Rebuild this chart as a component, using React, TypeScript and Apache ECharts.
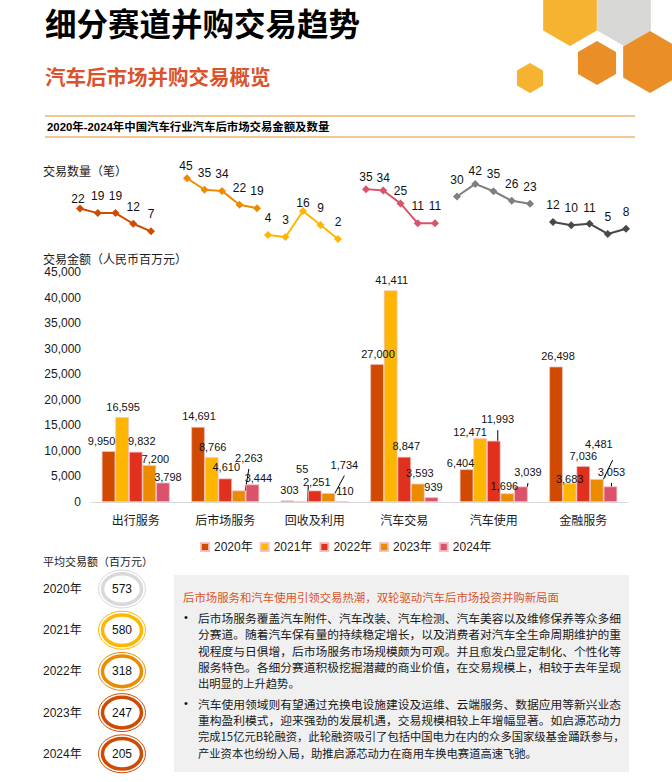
import React, { useEffect, useRef } from 'react';
import * as echarts from 'echarts';

// ---------- data ----------
const categories = ['出行服务', '后市场服务', '回收及利用', '汽车交易', '汽车使用', '金融服务'];
const years = ['2020年', '2021年', '2022年', '2023年', '2024年'];
const yearAxis = ['2020', '2021', '2022', '2023', '2024'];

const amount2020 = [9950, 14691, 303, 27000, 6404, 26498];
const amount2021 = [16595, 8766, 55, 41411, 12471, 3683];
const amount2022 = [9832, 4610, 2251, 8847, 11993, 7036];
const amount2023 = [7200, 2263, 1734, 3593, 1696, 4481];
const amount2024 = [3798, 3444, 110, 939, 3039, 3053];

const countMobility = [22, 19, 19, 12, 7];
const countAftermarket = [45, 35, 34, 22, 19];
const countRecycling = [4, 3, 16, 9, 2];
const countTrade = [35, 34, 25, 11, 11];
const countUse = [30, 42, 35, 26, 23];
const countFinance = [12, 10, 11, 5, 8];

const avgDealSize = [573, 580, 318, 247, 205];

const amountAxisMin = 0;
const amountAxisMax = 45000;
const amountAxisStep = 5000;

// ---------- texts ----------
const pageTitle = '细分赛道并购交易趋势';
const pageSubtitle = '汽车后市场并购交易概览';
const chartCaption = '2020年-2024年中国汽车行业汽车后市场交易金额及数量';
const countAxisName = '交易数量（笔）';
const amountAxisName = '交易金额（人民币百万元）';
const avgTitle = '平均交易额（百万元）';
const boxHeading = '后市场服务和汽车使用引领交易热潮，双轮驱动汽车后市场投资并购新局面';
const bullet1 = [
  '后市场服务覆盖汽车附件、汽车改装、汽车检测、汽车美容以及维修保养等众多细',
  '分赛道。随着汽车保有量的持续稳定增长，以及消费者对汽车全生命周期维护的重',
  '视程度与日俱增，后市场服务市场规模颇为可观。并且愈发凸显定制化、个性化等',
  '服务特色。各细分赛道积极挖掘潜藏的商业价值，在交易规模上，相较于去年呈现',
  '出明显的上升趋势。',
];
const bullet2 = [
  '汽车使用领域则有望通过充换电设施建设及运维、云端服务、数据应用等新兴业态',
  '重构盈利模式，迎来强劲的发展机遇，交易规模相较上年增幅显著。如启源芯动力',
  '完成15亿元B轮融资，此轮融资吸引了包括中国电力在内的众多国家级基金踊跃参与，',
  '产业资本也纷纷入局，助推启源芯动力在商用车换电赛道高速飞驰。',
];

// ---------- styles / layout ----------
const FONT = '"Liberation Sans", "Noto Sans CJK SC", sans-serif';
const CJK = '"Noto Sans CJK SC", "Liberation Sans", sans-serif';
const barColors = ['#D04A02', '#FFB600', '#E0301E', '#EB8C00', '#DB536A'];
const lineColors = ['#D04A02', '#EB8C00', '#FFB600', '#DB536A', '#7F7F7F', '#484848'];
const ringColors = ['#D9D9D9', '#FFB600', '#EB8C00', '#D04A02', '#D04A02'];
const accent = '#D9542C';

const lineGrids = [
  { left: 80, width: 71, top: 204, height: 38, max: 25 },
  { left: 187, width: 70, top: 172.5, height: 57.5, max: 50 },
  { left: 268, width: 70, top: 207, height: 36, max: 18 },
  { left: 366, width: 69, top: 182, height: 57, max: 40 },
  { left: 457, width: 73, top: 175.5, height: 52.5, max: 50 },
  { left: 553, width: 73, top: 218.5, height: 24, max: 14 },
];
// label nudges for the small line charts [group-point]
const lineLabelNudge: Record<string, number[]> = {
  '0-0': [-2, 7], '1-0': [-1, 5], '2-2': [0, 9], '3-0': [0, 5], '3-1': [0, 4], '3-2': [0, 5], '4-1': [0, 4], '5-2': [0, 1],
};
// bar label nudges [year][category]
const barLabelNudge = [
  [[-7, 0], [1, 0], [2, 0], [1, 0], [-6, 4], [2, 0]],
  [[1, 0], [1, 0], [1, -22], [1, 0], [-10, 4], [0, 6]],
  [[6, 0], [1, -1], [2, 2], [2, 0], [4, -11], [0, 0]],
  [[6, 4], [10, -22], [16, -18], [2, 0], [-3, 3], [2, -25]],
  [[5, 5], [6, 4], [3, 0], [2, 0], [7, -4], [1, -4]],
];
const leaderLabels = new Set(['1-2', '3-1', '3-2', '2-4', '4-4', '3-5', '4-5']);

const hexes = [
  { cx: 570, cy: 15, r: 31, color: '#F6B231' },
  { cx: 624, cy: 15, r: 31, color: '#D7D8D6' },
  { cx: 597, cy: 63, r: 22, color: '#EA8E28' },
  { cx: 650, cy: 62, r: 31, color: '#EA8E28' },
  { cx: 530, cy: 78, r: 15, color: '#F6B231' },
];

const hexPoints = (cx: number, cy: number, r: number) =>
  [0, 1, 2, 3, 4, 5].map((k) => {
    const a = (Math.PI / 180) * (60 * k - 90);
    return [cx + r * Math.cos(a), cy + r * Math.sin(a)];
  });

const fmt = (v: number) => Number(v).toLocaleString('en-US');

function buildOption() {
  const counts = [countMobility, countAftermarket, countRecycling, countTrade, countUse, countFinance];
  const amounts = [amount2020, amount2021, amount2022, amount2023, amount2024];

  const grids: any[] = lineGrids.map((g) => ({
    left: g.left, width: g.width, top: g.top, height: g.height, outerBoundsMode: 'none',
  }));
  grids.push({ left: 91, right: 44, top: 272, height: 230, outerBoundsMode: 'none' });

  const xAxes: any[] = lineGrids.map((_, i) => ({
    type: 'category', gridIndex: i, data: yearAxis, boundaryGap: false, show: false,
  }));
  xAxes.push({
    type: 'category', gridIndex: 6, data: categories,
    axisLine: { show: true, lineStyle: { color: '#D9D9D9', width: 1 } },
    axisTick: { show: false },
    axisLabel: { fontSize: 12, color: '#1a1a1a', fontFamily: CJK, margin: 11 },
  });

  const yAxes: any[] = lineGrids.map((g, i) => ({
    type: 'value', gridIndex: i, min: 0, max: g.max, show: false, splitLine: { show: false },
  }));
  yAxes.push({
    type: 'value', gridIndex: 6, min: amountAxisMin, max: amountAxisMax, interval: amountAxisStep,
    axisLine: { show: false }, axisTick: { show: false }, splitLine: { show: false },
    axisLabel: { fontSize: 12, color: '#1a1a1a', fontFamily: FONT, margin: 10, formatter: (v: number) => fmt(v) },
  });

  const lineSeries = counts.map((arr, gi) => ({
    type: 'line', name: categories[gi], xAxisIndex: gi, yAxisIndex: gi,
    symbol: 'diamond', symbolSize: 8,
    lineStyle: { color: lineColors[gi], width: 2 },
    itemStyle: { color: lineColors[gi] },
    label: { show: true, position: 'top', distance: 7, fontSize: 12, color: '#111', fontFamily: FONT },
    data: arr.map((v, pi) => {
      const n = lineLabelNudge[`${gi}-${pi}`];
      return n ? { value: v, label: { offset: n } } : { value: v };
    }),
  }));

  const barSeries = amounts.map((arr, yi) => ({
    type: 'bar', name: years[yi], xAxisIndex: 6, yAxisIndex: 6,
    barGap: '0%', barCategoryGap: '24%',
    itemStyle: { color: barColors[yi], borderColor: 'rgba(244,190,190,0.9)', borderWidth: 0.8 },
    label: {
      show: true, position: 'top', distance: 5, fontSize: 11, color: '#111', fontFamily: FONT,
      formatter: (p: any) => fmt(p.value),
    },
    labelLine: { show: false, lineStyle: { color: '#000', width: 1 } },
    data: arr.map((v, ci) => {
      const item: any = { value: v, label: { offset: barLabelNudge[yi][ci] } };
      if (leaderLabels.has(`${yi}-${ci}`)) item.labelLine = { show: true, length2: 0, lineStyle: { color: '#000', width: 1 } };
      return item;
    }),
  }));

  const graphic: any[] = [];
  hexes.forEach((h) => graphic.push({ type: 'polygon', silent: true, shape: { points: hexPoints(h.cx, h.cy, h.r) }, style: { fill: h.color } }));
  graphic.push(
    { type: 'text', x: 45, y: 22, style: { text: pageTitle, fontSize: 31.5, lineHeight: 34, fontWeight: 'bold', fontFamily: CJK, fill: '#000', verticalAlign: 'middle' } },
    { type: 'text', x: 45, y: 76, style: { text: pageSubtitle, fontSize: 20.5, fontWeight: 'bold', fontFamily: CJK, fill: accent, verticalAlign: 'middle' } },
    { type: 'line', shape: { x1: 45, y1: 116, x2: 635, y2: 116 }, style: { stroke: '#E8912A', lineWidth: 1 } },
    { type: 'line', shape: { x1: 45, y1: 137, x2: 635, y2: 137 }, style: { stroke: '#E8912A', lineWidth: 1 } },
    { type: 'text', x: 47, y: 126.5, style: { text: chartCaption, fontSize: 11.4, fontWeight: 'bold', fontFamily: FONT, fill: '#000', verticalAlign: 'middle' } },
    { type: 'text', x: 43, y: 170, style: { text: countAxisName, fontSize: 12, fontFamily: CJK, fill: '#1a1a1a', verticalAlign: 'middle' } },
    { type: 'text', x: 43, y: 258, style: { text: amountAxisName, fontSize: 12, fontFamily: CJK, fill: '#1a1a1a', verticalAlign: 'middle' } },
    { type: 'text', x: 43, y: 561, style: { text: avgTitle, fontSize: 11, fontFamily: CJK, fill: '#1a1a1a', verticalAlign: 'middle' } },
  );
  avgDealSize.forEach((v, i) => {
    const cy = 589 + i * 41.2;
    const c = ringColors[i];
    graphic.push(
      { type: 'text', x: 43, y: cy, style: { text: years[i], fontSize: 12, fontFamily: FONT, fill: '#1a1a1a', verticalAlign: 'middle' } },
      { type: 'ellipse', shape: { cx: 122, cy, rx: 23.5, ry: 19 }, style: { fill: 'none', stroke: c, lineWidth: 1 } },
      { type: 'ellipse', shape: { cx: 122, cy, rx: 19.5, ry: 15.3 }, style: { fill: '#fff', stroke: c, lineWidth: 3.5 } },
      { type: 'text', x: 122, y: cy, style: { text: String(v), fontSize: 12, fontFamily: FONT, fill: '#111', align: 'center', verticalAlign: 'middle' } },
    );
  });
  graphic.push(
    { type: 'rect', shape: { x: 174, y: 575, width: 455, height: 197 }, style: { fill: '#F0F0F0' } },
    { type: 'text', x: 183, y: 597, style: { text: boxHeading, fontSize: 11.4, fontFamily: CJK, fill: accent, verticalAlign: 'middle' } },
    { type: 'text', x: 184, y: 617, style: { text: '•', fontSize: 11, fontFamily: FONT, fill: '#111', verticalAlign: 'middle' } },
    { type: 'text', x: 184, y: 703, style: { text: '•', fontSize: 11, fontFamily: FONT, fill: '#111', verticalAlign: 'middle' } },
  );
  bullet1.forEach((t, k) => {
    graphic.push({ type: 'text', x: 198, y: 617 + k * 16.5, style: { text: t, fontSize: k < 4 ? 11.75 : 11.3, fontFamily: CJK, fill: '#1a1a1a', verticalAlign: 'middle' } });
  });
  bullet2.forEach((t, k) => {
    graphic.push({ type: 'text', x: 198, y: 703 + k * 16.7, style: { text: t, fontSize: k < 2 ? 11.75 : 11.3, fontFamily: CJK, fill: '#1a1a1a', verticalAlign: 'middle' } });
  });

  return {
    animation: false,
    backgroundColor: '#fff',
    textStyle: { fontFamily: FONT },
    legend: {
      data: years, left: 195, top: 536, itemWidth: 8, itemHeight: 8, itemGap: 7, icon: 'rect',
      textStyle: { fontSize: 12, color: '#1a1a1a', fontFamily: FONT },
    },
    grid: grids,
    xAxis: xAxes,
    yAxis: yAxes,
    series: [...lineSeries, ...barSeries],
    graphic,
  };
}

export default function App() {
  const ref = useRef<HTMLDivElement>(null);
  useEffect(() => {
    if (!ref.current) return;
    const chart = echarts.init(ref.current, undefined, { renderer: 'svg' });
    chart.setOption(buildOption() as any);
    return () => chart.dispose();
  }, []);
  return <div ref={ref} style={{ position: 'absolute', left: 0, top: 0, width: 672, height: 782 }} />;
}
